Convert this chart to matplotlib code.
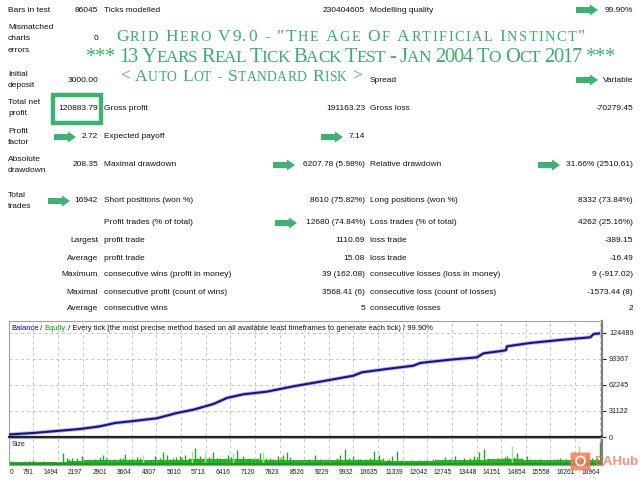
import matplotlib
matplotlib.use('Agg')
import matplotlib.pyplot as plt
from matplotlib import patches

# ---- report values ----
rows_left = [
    (['Bars in test'], 10, '86045'),
    (['Mismatched', 'charts', 'errors'], 39, '0'),
    (['Initial', 'deposit'], 80, '3000.00'),
    (['Total net', 'profit'], 108, '120883.79'),
    (['Profit', 'factor'], 137, '2.72'),
    (['Absolute', 'drawdown'], 165, '208.35'),
    (['Total', 'trades'], 201, '16942'),
]
rows_mid = [
    (10, 'Ticks modelled', '230404605', 'Modelling quality', '99.90%'),
    (80, None, None, 'Spread', 'Variable'),
    (108, 'Gross profit', '191163.23', 'Gross loss', '-70279.45'),
    (137, 'Expected payoff', '7.14', None, None),
    (165, 'Maximal drawdown', '6207.78 (5.98%)', 'Relative drawdown', '31.66% (2510.61)'),
    (201, 'Short positions (won %)', '8610 (75.82%)', 'Long positions (won %)', '8332 (73.84%)'),
    (223, 'Profit trades (% of total)', '12680 (74.84%)', 'Loss trades (% of total)', '4262 (25.16%)'),
]
rows_stats = [
    (241, 'Largest', 'profit trade', '1110.69', 'loss trade', '-389.15'),
    (258, 'Average', 'profit trade', '15.08', 'loss trade', '-16.49'),
    (275, 'Maximum', 'consecutive wins (profit in money)', '39 (162.08)',
     'consecutive losses (loss in money)', '9 (-917.02)'),
    (292, 'Maximal', 'consecutive profit (count of wins)', '3568.41 (6)',
     'consecutive loss (count of losses)', '-1573.44 (8)'),
    (309, 'Average', 'consecutive wins', '5', 'consecutive losses', '2'),
]
# green arrows: (tip x, y)
arrows = [(598, 10), (598, 80), (76, 137), (343, 137), (295, 165),
          (560, 165), (70, 201), (297, 223)]

# text, baseline y, left x, right x, caps size, small size
titles = [
    ('Grid Hero V9.0 - "The Age Of Artificial Instinct"', 41, 116, 585, 12.5, 10.4),
    ('*** 13 Years Real Tick Back Test - Jan 2004 To Oct 2017 ***', 62, 86, 615, 14.8, 12.4),
    ('< Auto Lot - Standard Risk >', 81, 120, 362, 12.6, 9.8),
]

# balance curve (trade number, balance)
bal_trades = [100, 791, 1554, 2126, 2697, 3126, 3651, 4317, 4889, 5363, 5934,
              6317, 6791, 7457, 7840, 8220, 8983, 9934, 10171, 10886, 11646,
              11840, 12697, 13460, 13649, 14220, 14290, 14317, 14983, 15840,
              16697, 16791, 16942]
bal_values = [3000, 4790, 7540, 9580, 12800, 16760, 19150, 22380, 28730, 32680,
              39500, 46680, 51110, 54230, 57460, 60650, 66200, 73380, 77400,
              81390, 85340, 88580, 92530, 95330, 100120, 103310, 104000, 108500,
              112520, 116110, 119310, 123250, 123884]
y_ticks = [0, 31122, 62245, 93367, 124489]
x_ticks = [0, 791, 1494, 2197, 2901, 3604, 4307, 5010, 5713, 6416, 7120, 7823,
           8526, 9229, 9932, 10635, 11339, 12042, 12745, 13448, 14151, 14854,
           15558, 16261, 16964]

# lot size bars
base_trades = list(range(0, 17500, 500))
base_sizes = [0.03, 0.03, 0.03, 0.03, 0.04, 0.05, 0.05, 0.05, 0.05, 0.05, 0.05,
              0.06, 0.06, 0.06, 0.06, 0.05, 0.05, 0.05, 0.05, 0.05, 0.05, 0.05,
              0.04, 0.04, 0.04, 0.05, 0.05, 0.05, 0.06, 0.06, 0.05, 0.05, 0.05,
              0.05, 0.05]
spike_trades = [269, 554, 791, 983, 1269, 1649, 1746, 1889, 2174, 2411, 2697,
                2791, 2983, 3269, 3411, 3603, 3746, 3934, 4031, 4269, 4506, 4603,
                4791, 4983, 5126, 5317, 5411, 5554, 5697, 5934, 6126, 6363, 6506,
                6603, 6791, 7077, 7269, 7363, 7554, 7791, 7934, 8031, 8220, 8460,
                8840, 9363, 9554, 9697, 9934, 10126, 10506, 10649, 10889, 11031,
                11191, 11460, 11840, 12031, 12317, 12554, 12840, 12983, 13363,
                13506, 13649, 13934, 14174, 14317, 14460, 14603, 14889, 15077,
                15460, 15649, 15840, 16363, 16603, 16963]
spike_sizes = [0.033, 0.04, 0.05, 0.033, 0.033, 0.117, 0.067, 0.067, 0.083,
               0.05, 0.073, 0.093, 0.05, 0.067, 0.107, 0.06, 0.073, 0.10, 0.05,
               0.083, 0.127, 0.10, 0.067, 0.083, 0.10, 0.133, 0.16, 0.083, 0.117,
               0.127, 0.067, 0.10, 0.117, 0.14, 0.083, 0.05, 0.117, 0.127, 0.067,
               0.083, 0.10, 0.127, 0.05, 0.033, 0.10, 0.05, 0.10, 0.15, 0.083,
               0.06, 0.133, 0.10, 0.05, 0.083, 0.133, 0.033, 0.05, 0.05, 0.033,
               0.073, 0.083, 0.033, 0.083, 0.127, 0.15, 0.04, 0.067, 0.083,
               0.183, 0.117, 0.083, 0.05, 0.05, 0.05, 0.067, 0.183, 0.083, 0.217]
light_spikes = [3934, 5317, 5697, 6506, 7363, 14460, 16363]
mid_trades = [150, 420, 680, 1100, 1400, 1820, 2050, 2300, 2550, 2880, 3100,
              3350, 3520, 3850, 4150, 4400, 4700, 4880, 5050, 5250, 5480, 5800,
              6050, 6250, 6450, 6700, 6950, 7150, 7450, 7650, 7870, 8130, 8350,
              8650, 8980, 9200, 9450, 9800, 10050, 10300, 10420, 10780, 10950,
              11300, 11600, 11950, 12200, 12450, 12700, 13100, 13250, 13450,
              13780, 14050, 14250, 14380, 14520, 14750, 14980, 15250, 15550,
              15750, 16000, 16200, 16450, 16750, 16880]
mid_sizes = [0.035, 0.03, 0.04, 0.035, 0.03, 0.06, 0.07, 0.05, 0.06, 0.065,
             0.055, 0.07, 0.06, 0.065, 0.05, 0.07, 0.06, 0.075, 0.065, 0.07,
             0.06, 0.08, 0.07, 0.06, 0.075, 0.06, 0.07, 0.055, 0.07, 0.06,
             0.065, 0.075, 0.05, 0.06, 0.055, 0.05, 0.065, 0.07, 0.06, 0.055,
             0.07, 0.065, 0.06, 0.05, 0.045, 0.05, 0.055, 0.045, 0.06, 0.065,
             0.07, 0.075, 0.06, 0.07, 0.08, 0.07, 0.075, 0.065, 0.06, 0.055,
             0.05, 0.06, 0.055, 0.065, 0.06, 0.07, 0.065]

GREEN = '#3cb371'
TITLE = '#3aaf6c'
TXT = '#111111'
FONT = 'Liberation Sans'
FS = 6.0

fig = plt.figure(figsize=(6.4, 4.8), dpi=100)
fig.patch.set_facecolor('white')

# ---- balance chart ----
ax = fig.add_axes([9 / 640, 1 - 437 / 480, 593 / 640, 116 / 480])
ax.plot(bal_trades, bal_values, color='#b8b8ea', lw=2.8, zorder=2)
ax.plot(bal_trades, bal_values, color='#14148c', lw=1.5, zorder=3)
ax.set_xlim(97, 17031)
ax.set_ylim(0, 138800)
ax.set_xticks(x_ticks[1:])
ax.set_yticks(y_ticks)
ax.yaxis.tick_right()
ax.tick_params(axis='x', labelbottom=False, length=0)
ax.tick_params(axis='y', length=3, width=0.8, pad=2, labelsize=5.2, colors='#222222')
for lab in ax.get_yticklabels():
    lab.set_family(FONT)
ax.grid(True, ls=(0, (3, 3)), color='#c8c8c8', lw=0.7)
for side in ['left', 'top']:
    ax.spines[side].set_color('#a0a0a0')
    ax.spines[side].set_linewidth(0.8)
ax.spines['right'].set_color('#808080')
ax.spines['right'].set_linewidth(1.6)
ax.spines['bottom'].set_color('#202020')
ax.spines['bottom'].set_linewidth(1.6)

# ---- size panel ----
ax2 = fig.add_axes([9 / 640, 1 - 465 / 480, 593 / 640, 27 / 480])
ax2.fill_between(base_trades, 0, base_sizes, step='mid', color='#2ab82a', lw=0)
ax2.vlines(mid_trades, 0, mid_sizes, colors='#1aaa1a', lw=1.0)
cols = ['#9ee09e' if t in light_spikes else '#1aaa1a' for t in spike_trades]
ax2.vlines(spike_trades, 0, spike_sizes, colors=cols, lw=1.0)
ax2.axhline(0.01, color='#10a010', lw=2.2)
ax2.set_xlim(97, 17031)
ax2.set_ylim(0, 0.26)
ax2.set_yticks([])
ax2.set_xticks(x_ticks[1:])
ax2.set_xticklabels([str(v) for v in x_ticks[1:]], ha='right', family=FONT)
ax2.tick_params(axis='x', length=0, pad=3, labelsize=4.8, colors='#222222')
ax2.grid(True, axis='x', ls=(0, (3, 3)), color='#c8c8c8', lw=0.7)
for side in ['left', 'top', 'bottom']:
    ax2.spines[side].set_color('#a0a0a0')
    ax2.spines[side].set_linewidth(0.8)
ax2.spines['right'].set_color('#808080')
ax2.spines['right'].set_linewidth(1.6)
ax2.text(0.004, 0.76, 'Size', transform=ax2.transAxes, fontsize=5.2,
         family=FONT, va='center', color='#222222')

# ---- overlay in pixel coordinates ----
ov = fig.add_axes([0, 0, 1, 1], zorder=5)
ov.set_xlim(0, 640)
ov.set_ylim(480, 0)
ov.axis('off')
ov.patch.set_alpha(0)

kw = dict(fontsize=FS, family=FONT, color=TXT, va='center')
for lines, yv, val in rows_left:
    n = len(lines)
    for i, s in enumerate(lines):
        ov.text(8, yv + (i - (n - 1) / 2) * 11.8, s, ha='left', **kw)
    ov.text(98, yv, val, ha='right', **kw)
for yv, l1, v1, l2, v2 in rows_mid:
    if l1:
        ov.text(104, yv, l1, ha='left', **kw)
        ov.text(365, yv, v1, ha='right', **kw)
    if l2:
        ov.text(370, yv, l2, ha='left', **kw)
        ov.text(633, yv, v2, ha='right', **kw)
for yv, l0, l1, v1, l2, v2 in rows_stats:
    ov.text(98, yv, l0, ha='right', **kw)
    ov.text(104, yv, l1, ha='left', **kw)
    ov.text(365, yv, v1, ha='right', **kw)
    ov.text(370, yv, l2, ha='left', **kw)
    ov.text(633, yv, v2, ha='right', **kw)

for tx, ty in arrows:
    ov.add_patch(patches.FancyArrow(tx - 22, ty, 22, 0, width=6, head_width=11,
                                    head_length=8, length_includes_head=True,
                                    color=GREEN, lw=0))
ov.add_patch(patches.Rectangle((53, 95), 48, 28, fill=False, ec=GREEN, lw=3.2))

renderer = fig.canvas.get_renderer()


def small_caps(s, y, x0, x1, big, small):
    # lay out one character at a time, then spread to the target width
    glyphs = []
    for ch in s:
        if ch == ' ':
            glyphs.append((None, big * 100 / 72 * 0.26))
            continue
        size = small if ch.islower() else big
        t = ov.text(0, y, ch.upper(), fontsize=size, family='Liberation Serif',
                    color=TITLE, va='baseline', ha='left')
        glyphs.append((t, t.get_window_extent(renderer).width))
    natural = sum(w for _, w in glyphs)
    track = (x1 - x0 - natural) / (len(glyphs) - 1)
    x = x0
    for t, w in glyphs:
        if t is not None:
            t.set_x(x)
        x += w + track


for s, yb, x0, x1, big, small in titles:
    small_caps(s, yb, x0, x1, big, small)

# chart caption
x = 11
for txt, c in [('Balance', '#000080'), (' / ', '#111111'), ('Equity', '#00a000'),
               (' / Every tick (the most precise method based on all available '
                'least timeframes to generate each tick) / 99.90%', '#111111')]:
    t = ov.text(x, 328, txt.replace(' ', '\u00a0'), fontsize=5.4, family=FONT,
                color=c, va='center', ha='left')
    x += t.get_window_extent(renderer).width
ov.text(10, 472, '0', ha='left', fontsize=4.8, family=FONT, color='#222222',
        va='center')

# watermark
ov.add_patch(patches.FancyBboxPatch((572, 454), 17, 15, boxstyle='round,pad=1.5',
                                    fc='#f47a5a', ec='none', alpha=0.85))
ov.add_patch(patches.Circle((580.5, 461), 4.5, fc='none', ec='white', lw=1.2))
ov.text(594, 462, 'EAHub', fontsize=9.5, fontweight='bold', family=FONT,
        color='#f26b4c', alpha=0.75, va='center', ha='left')

plt.savefig('out.png', dpi=100)
